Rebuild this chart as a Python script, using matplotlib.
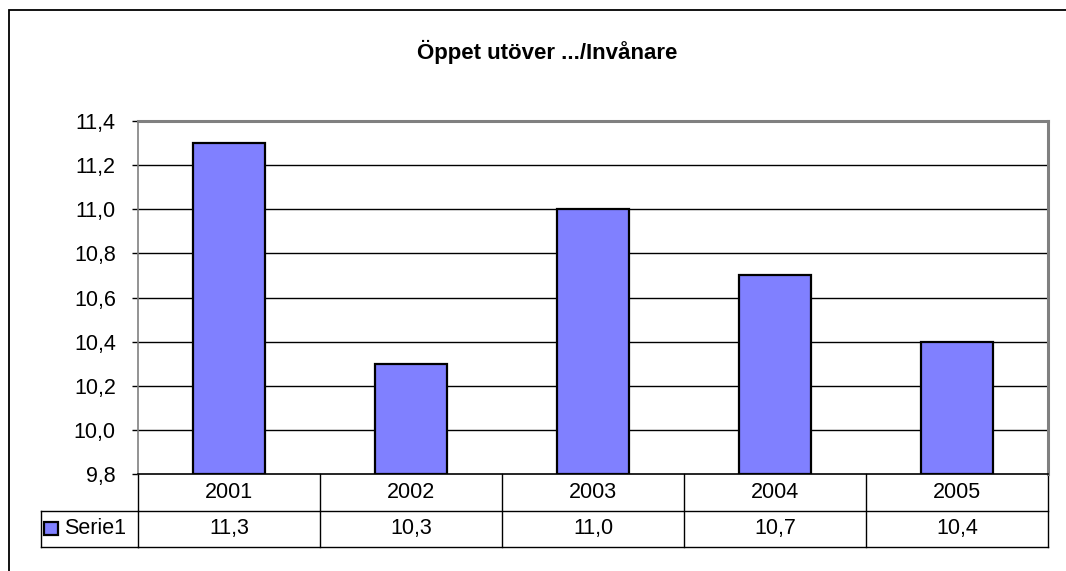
"""Bar chart with data table: Öppet utöver .../Invånare."""
import matplotlib
matplotlib.use("Agg")
import matplotlib.pyplot as plt
from matplotlib.patches import Rectangle
from matplotlib.lines import Line2D
import matplotlib.transforms as mtransforms

years = ["2001", "2002", "2003", "2004", "2005"]
values = [11.3, 10.3, 11.0, 10.7, 10.4]
series_name = "Serie1"
title = "Öppet utöver .../Invånare"
y_ticks = [9.8, 10.0, 10.2, 10.4, 10.6, 10.8, 11.0, 11.2, 11.4]

BAR_COLOR = "#8080FF"
W, H = 1066, 571
FS = 15.5


def fmt(v):
    return f"{v:.1f}".replace(".", ",")


plt.rcParams["font.family"] = ["Liberation Sans", "DejaVu Sans"]

fig = plt.figure(figsize=(W / 100, H / 100), dpi=100)
fig.patch.set_facecolor("white")

# outer chart frame (runs off right and bottom edge)
fig.patches.append(Rectangle((9 / W, -0.2), 1.5, 1.2 - 10 / H,
                             transform=fig.transFigure, fill=False,
                             edgecolor="black", linewidth=1.3))

ax = fig.add_axes([138 / W, 1 - 474 / H, (1048 - 138) / W, (474 - 121) / H])
x = list(range(len(years)))
ax.bar(x, [v - y_ticks[0] for v in values], bottom=y_ticks[0], width=0.4,
       color=BAR_COLOR, edgecolor="black", linewidth=1.6, zorder=3)
ax.set_xlim(-0.5, len(years) - 0.5)
ax.set_ylim(y_ticks[0], y_ticks[-1])
ax.set_yticks(y_ticks)
ax.set_yticklabels([fmt(v) for v in y_ticks], fontsize=FS)
ax.tick_params(axis="y", length=4, width=1, pad=12, color="black")
ax.set_xticks([])
for v in y_ticks[1:-1]:
    ax.axhline(v, color="black", linewidth=1, zorder=1)
for side in ("top", "right"):
    ax.spines[side].set_color("#808080")
    ax.spines[side].set_linewidth(2.2)
ax.spines["left"].set_color("#808080")
ax.spines["left"].set_linewidth(1.2)
ax.spines["bottom"].set_color("black")
ax.spines["bottom"].set_linewidth(1.2)

fig.text(0.5 + 14 / W, 1 - 52 / H, title, ha="center", va="center",
         fontsize=16, fontweight="bold")

# data table below the plot area
trans = mtransforms.blended_transform_factory(ax.transData, ax.transAxes)
ftrans = mtransforms.blended_transform_factory(fig.transFigure, ax.transAxes)
row_h = 36.5 / (474 - 121)
lkw = dict(transform=trans, color="black", linewidth=1, clip_on=False)
fkw = dict(transform=ftrans, color="black", linewidth=1, clip_on=False)
x0, x1 = -0.5, len(years) - 0.5
for y in (-row_h, -2 * row_h):
    ax.add_line(Line2D([x0, x1], [y, y], **lkw))
for i in range(len(years) + 1):
    ax.add_line(Line2D([i - 0.5, i - 0.5], [0, -2 * row_h], **lkw))

# legend column to the left of the table
leg_left, leg_right = 41 / W, 138 / W
for y in (-row_h, -2 * row_h):
    ax.add_line(Line2D([leg_left, leg_right], [y, y], **fkw))
ax.add_line(Line2D([leg_left, leg_left], [-row_h, -2 * row_h], **fkw))

for i, (yr, v) in enumerate(zip(years, values)):
    ax.text(i, -0.5 * row_h, yr, transform=trans, ha="center", va="center",
            fontsize=FS)
    ax.text(i, -1.5 * row_h, fmt(v), transform=trans, ha="center",
            va="center", fontsize=FS)

key_h = 13 / (474 - 121)
ax.add_patch(Rectangle((44 / W, -1.5 * row_h - key_h / 2), 14 / W, key_h,
                       transform=ftrans, facecolor=BAR_COLOR,
                       edgecolor="black", linewidth=1.6, clip_on=False))
ax.text(64 / W, -1.5 * row_h, series_name, transform=ftrans, ha="left",
        va="center", fontsize=FS)

fig.savefig("out.png", dpi=100)
